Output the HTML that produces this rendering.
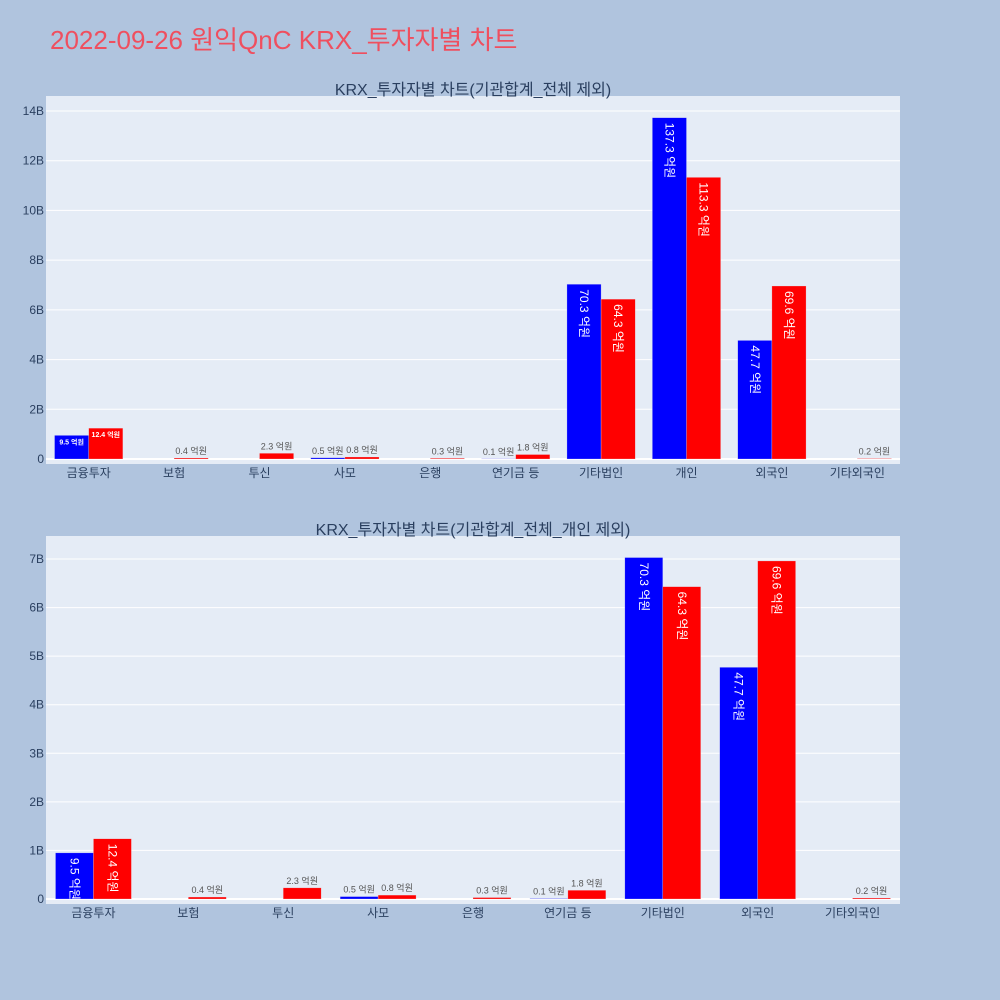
<!DOCTYPE html>
<html><head><meta charset="utf-8"><style>
body{margin:0;background:#b0c4de;width:1000px;height:1000px;overflow:hidden;font-family:"Liberation Sans","Noto Sans CJK KR",sans-serif}
</style></head><body>
<svg id="s" width="1000" height="1000" xmlns="http://www.w3.org/2000/svg" style="position:absolute;left:0;top:0">
<rect width="1000" height="1000" fill="#b0c4de"/>
<text x="50" y="49" font-size="26" fill="#ef4f5f" font-family="Liberation Sans, Noto Sans CJK KR, sans-serif">2022-09-26 원익QnC KRX_투자자별 차트</text>
</svg>
<script>
const categories=["금융투자","보험","투신","사모","은행","연기금 등","기타법인","개인","외국인","기타외국인"];
const buyValues=[9.5,0,0,0.5,0,0.1,70.3,137.3,47.7,0];
const sellValues=[12.4,0.4,2.3,0.8,0.3,1.8,64.3,113.3,69.6,0.2];
const topTicks=[0,2,4,6,8,10,12,14];
const bottomTicks=[0,1,2,3,4,5,6,7];
const NS="http://www.w3.org/2000/svg";
const svg=document.getElementById('s');
function el(t,a,p){const e=document.createElementNS(NS,t);for(const k in a)e.setAttribute(k,a[k]);(p||svg).appendChild(e);return e;}
function chart(cfg){
  const g=el('g',{});
  
  
  const L=46,R=900,T=cfg.top,B=cfg.top+368,z=cfg.zero,pxPer=cfg.pxPer;
  const bg=el('rect',{x:L,y:T,width:R-L,height:B-T,fill:'#e5ecf6'},g);
  
  
  const t=el('text',{x:473,y:T-1,'font-size':16,fill:'#2a3f5f','text-anchor':'middle'},g);
  t.textContent=cfg.title;
  
  
  const y=v=>z-v*pxPer;
  cfg.ticks.forEach(v=>{
    const ln=el('line',{x1:L,x2:R,y1:y(v),y2:y(v),stroke:'#fff','stroke-width':v==0?2:1},g);
    
    
    const tx=el('text',{x:L-2,y:y(v)+4,'font-size':12,fill:'#2a3f5f','text-anchor':'end'},g);
    tx.textContent=v==0?'0':v+'B';
    
    
  });
  const idx=cfg.idx,n=idx.length,step=(R-L)/n,bw=step*0.4;
  idx.forEach((ci,i)=>{
    const cx=L+step*(i+0.5);
    const xl=el('text',{x:cx,y:B+13,'font-size':12,fill:'#2a3f5f','text-anchor':'middle'},g);
    xl.textContent=categories[ci];
    
    
    [[buyValues[ci],'#0000ff',cx-bw],[sellValues[ci],'#ff0000',cx]].forEach(([v,c,x0])=>{
      if(v<=0)return;
      const h=v/10*pxPer;
      const r=el('rect',{x:x0,y:z-h,width:bw,height:h,fill:c,stroke:'rgba(229,236,246,0.5)','stroke-width':0.5},g);
      
      
      const lab=v.toFixed(1)+' 억원';
      let tx;
      if(h>40){
        tx=el('text',{transform:`translate(${x0+bw/2-4},${z-h+5}) rotate(90)`,'font-size':cfg.fs,fill:'#fff'},g);
      }else if(h>12){
        tx=el('text',{x:x0+bw/2,y:z-h+9,'font-size':7,'font-weight':'bold',fill:'#fff','text-anchor':'middle'},g);
      }else{
        tx=el('text',{x:x0+bw/2,y:z-h-4,'font-size':9,fill:'#555','text-anchor':'middle'},g);
      }
      tx.textContent=lab;
      
      
    });
  });
}
chart({name:'chart-all',title:'KRX_투자자별 차트(기관합계_전체 제외)',top:96,zero:459,pxPer:(459-111)/14,ticks:topTicks,idx:[0,1,2,3,4,5,6,7,8,9],fs:12});
chart({name:'chart-no-individual',title:'KRX_투자자별 차트(기관합계_전체_개인 제외)',top:536,zero:899,pxPer:(899-559)/7,ticks:bottomTicks,idx:[0,1,2,3,4,5,6,8,9],fs:12});
</script>
</body></html>
